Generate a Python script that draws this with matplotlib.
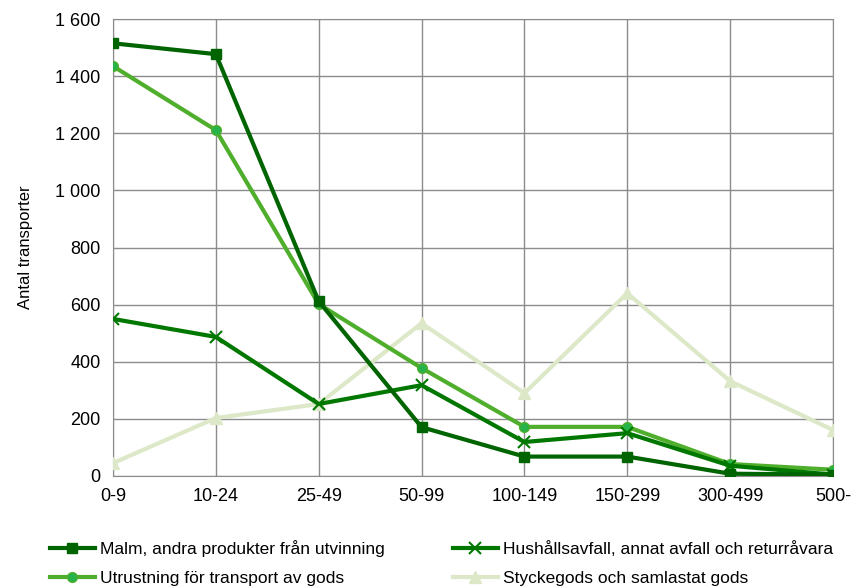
import matplotlib
matplotlib.use("Agg")
import matplotlib.pyplot as plt
from matplotlib.ticker import FuncFormatter

plt.rcParams['font.family'] = ['Liberation Sans', 'DejaVu Sans']

kategorier = ['0-9', '10-24', '25-49', '50-99', '100-149', '150-299', '300-499', '500-']

malm = [1515, 1477, 612, 171, 68, 68, 8, 5]
hushall = [550, 487, 252, 318, 119, 150, 36, 5]
utrustning = [1435, 1211, 602, 378, 172, 172, 42, 22]
stycke = [45, 203, 252, 535, 290, 640, 332, 161]

fig = plt.figure(figsize=(8.54, 5.87), dpi=100)
ax = fig.add_axes([0.1323, 0.1891, 0.8431, 0.7785])

x = range(len(kategorier))
ax.plot(x, stycke, color='#dde8c8', lw=3, marker='^', ms=8, label='Styckegods och samlastat gods', zorder=3)
ax.plot(x, utrustning, color='#4fae2c', lw=3, marker='o', ms=7, mfc='#26b34a', mec='#4fae2c', label='Utrustning för transport av gods', zorder=4)
ax.plot(x, hushall, color='#007800', lw=3, marker='x', ms=8, mew=1.5, label='Hushållsavfall, annat avfall och returråvara', zorder=5)
ax.plot(x, malm, color='#006400', lw=3, marker='s', ms=7, label='Malm, andra produkter från utvinning', zorder=6)

ax.set_xlim(0, len(kategorier) - 1)
ax.set_ylim(0, 1600)
ax.set_xticks(list(x))
ax.set_xticklabels(kategorier)
ax.set_yticks(range(0, 1601, 200))
ax.yaxis.set_major_formatter(FuncFormatter(lambda v, p: f'{int(v):,}'.replace(',', ' ')))
ax.grid(True, color='#8c8c8c', lw=1)
ax.set_axisbelow(True)
for s in ax.spines.values():
    s.set_color('#8c8c8c')
ax.tick_params(length=0, labelsize=13, pad=9)
ax.set_ylabel('Antal transporter', fontsize=12, labelpad=16)

handles, labels = ax.get_legend_handles_labels()
order = [3, 1, 2, 0]
fig.legend([handles[i] for i in order], [labels[i] for i in order],
           loc='lower left', bbox_to_anchor=(0.04, -0.025), ncol=2, frameon=False,
           fontsize=12.5, handlelength=2.6, columnspacing=3.9, handletextpad=0.3,
           labelspacing=0.78)

fig.savefig('out.png', dpi=100)
